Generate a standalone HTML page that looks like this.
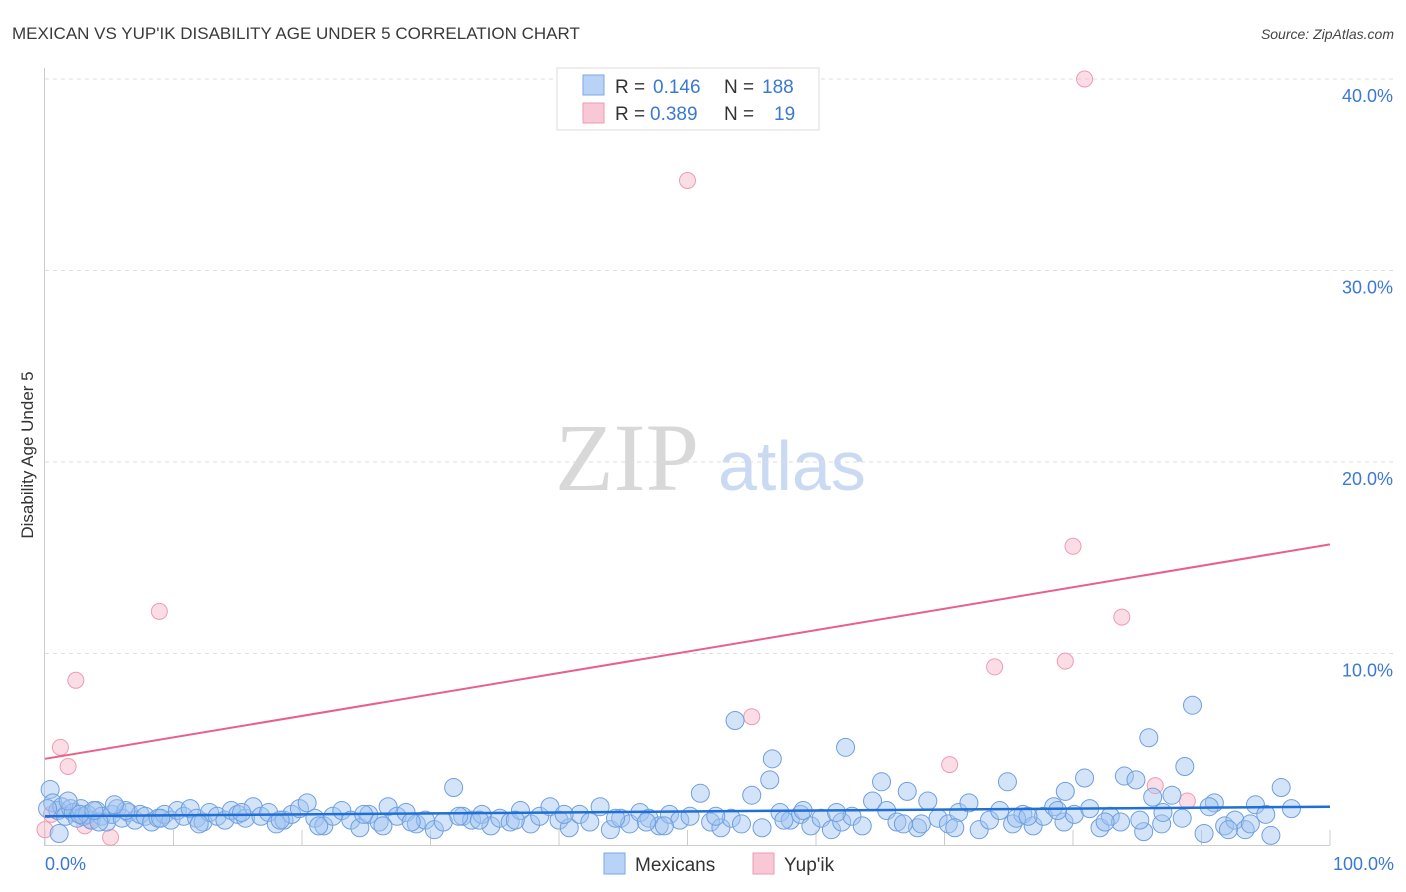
<!DOCTYPE html>
<html><head><meta charset="utf-8"><style>
body{margin:0;background:#fff;font-family:"Liberation Sans",sans-serif}
svg{display:block}
</style></head><body>
<svg id="chart" width="1406" height="892" viewBox="0 0 1406 892" xmlns="http://www.w3.org/2000/svg">
<text x="12" y="39" font-size="17" fill="#3a3a3a">MEXICAN VS YUP'IK DISABILITY AGE UNDER 5 CORRELATION CHART</text>
<text x="1394" y="39" font-size="14" fill="#444" font-style="italic" text-anchor="end">Source: ZipAtlas.com</text>
<g>
<text x="555" y="490" font-family="Liberation Serif,serif" font-size="96" fill="#d8d8d8">ZIP</text>
<text x="718" y="490" font-size="70" fill="#c9daf2">atlas</text>
</g>
<g id="grid"></g>
<g id="axes"></g>
<g id="pinkpts"></g>
<g id="bluepts"></g>
<g id="lines"></g>
<text transform="translate(33,455) rotate(-90)" font-size="17" fill="#333" text-anchor="middle">Disability Age Under 5</text>
<g>
<rect x="557" y="68" width="262" height="62" fill="#fff" stroke="#ddd"/>
<rect x="583" y="75" width="21" height="20" fill="#b9d3f6" stroke="#7aa7e6"/>
<rect x="583" y="103" width="21" height="20" fill="#f9c8d6" stroke="#ec9bb3"/>
<text x="615" y="93" font-size="19" fill="#333">R = </text><text x="653" y="93" font-size="19" fill="#3a78d4">0.146</text>
<text x="724" y="93" font-size="19" fill="#333">N = </text><text x="762" y="93" font-size="19" fill="#3a78d4">188</text>
<text x="615" y="120" font-size="19" fill="#333">R = </text><text x="650" y="120" font-size="19" fill="#3a78d4">0.389</text>
<text x="724" y="120" font-size="19" fill="#333">N = </text><text x="774" y="120" font-size="19" fill="#3a78d4">19</text>
</g>
<g>
<rect x="604" y="853" width="21" height="21" fill="#b9d3f6" stroke="#7aa7e6"/>
<text x="635" y="871" font-size="19" fill="#333">Mexicans</text>
<rect x="753" y="853" width="21" height="21" fill="#f9c8d6" stroke="#ec9bb3"/>
<text x="784" y="871" font-size="19" fill="#333">Yup'ik</text>
</g>
<text x="45" y="870" font-size="18" fill="#3a78d4">0.0%</text>
<text x="1394" y="870" font-size="18" fill="#3a78d4" text-anchor="end">100.0%</text>
</svg>
<script>
const yTicks=[10,20,30,40];
const yTickLabels=["10.0%","20.0%","30.0%","40.0%"];
const xTicks=[0,10,20,30,40,50,60,70,80,90,100];
const pinkX=[0,0.5,1.2,1.8,2.4,3.1,5.1,8.9,50,55,70.4,73.9,79.4,80,80.9,83.8,86.4,88.9,3.5];
const pinkY=[0.8,1.6,5.1,4.1,8.6,1.0,0.4,12.2,34.7,6.7,4.2,9.3,9.6,15.6,40,11.9,3.1,2.3,1.3];
const blueX=[0.4,0.6,1,1.3,1.6,2,2.2,2.5,2.8,3,3.3,3.6,4,4.4,4.8,5.2,5.6,6,6.5,7,7.4,7.8,8.3,8.8,9.3,9.8,10.3,10.8,11.3,11.8,12.3,12.8,13.4,14,14.5,15,15.6,16.2,16.8,17.4,18,18.6,19.2,19.8,20.4,21,21.7,22.4,23.1,23.8,24.5,25.2,26,26.7,27.4,28.1,28.9,29.6,30.3,31,31.8,32.5,33.2,34,34.7,35.4,36.2,37,37.8,38.5,39.3,40,40.8,41.6,42.4,43.2,44,44.8,45.5,46.3,47,47.8,48.6,49.4,50.2,51,51.8,52.6,53.4,53.7,54.2,55,55.8,56.4,56.6,57.2,58,58.8,59.6,60.4,61.2,62,62.3,62.8,63.6,64.4,65.1,65.5,66.3,67.1,67.9,68.7,69.5,70.3,71.1,71.9,72.7,73.5,74.3,74.9,75.3,76.1,76.9,77.7,78.5,79.3,79.4,80.1,80.9,81.3,82.1,82.9,83.7,84,84.9,85.5,85.9,86.2,86.9,87.7,88.5,88.7,89.3,90.2,91,91.8,92.6,93.4,94.2,95,95.4,96.2,97,1.1,2.7,4.2,6.3,9,12,15.3,18.3,21.3,24.8,28.5,32.2,36.6,40.4,44.4,48.2,52.2,57.5,61.6,66.8,70.8,75.6,78.8,82.5,87,90.6,93.8,0.2,1.8,3.8,5.4,26.3,33.8,46.8,59,68.2,76.5,85.2,92.1];
const blueY=[2.9,2.2,1.8,2.0,1.5,1.9,1.7,1.4,1.9,1.5,1.6,1.3,1.8,1.5,1.2,1.6,1.9,1.4,1.7,1.3,1.6,1.5,1.2,1.4,1.6,1.3,1.8,1.5,1.9,1.4,1.2,1.7,1.5,1.3,1.8,1.6,1.4,2.0,1.5,1.7,1.1,1.3,1.6,1.9,2.2,1.4,1.0,1.5,1.8,1.3,0.9,1.6,1.2,2.0,1.5,1.7,1.1,1.3,0.8,1.2,3.0,1.5,1.3,1.6,1.0,1.4,1.2,1.8,1.1,1.5,2.0,1.3,0.9,1.6,1.2,2.0,0.8,1.4,1.1,1.7,1.4,1.0,1.6,1.3,1.5,2.7,1.2,0.9,1.4,6.5,1.1,2.6,0.9,3.4,4.5,1.7,1.3,1.6,1.0,1.4,0.8,1.2,5.1,1.5,1.0,2.3,3.3,1.8,1.2,2.8,0.9,2.3,1.4,1.1,1.7,2.2,0.8,1.3,1.8,3.3,1.1,1.6,1.0,1.5,2.0,1.2,2.8,1.6,3.5,1.9,0.9,1.5,1.2,3.6,3.4,0.7,5.6,2.5,1.1,2.6,1.4,4.1,7.3,0.6,2.2,1.0,1.3,0.8,2.1,1.6,0.5,3.0,1.9,0.6,1.6,1.2,1.8,1.4,1.1,1.7,1.3,1.0,1.6,1.2,1.5,1.3,1.6,1.4,1.0,1.5,1.3,1.7,1.1,0.9,1.4,1.8,1.2,1.7,2.0,1.1,1.9,2.3,1.8,2.1,1.0,1.3,1.2,1.8,1.1,1.5,1.3,0.8];
const blueTrend=[1.5,2.0];
const pinkTrend=[4.5,15.7];
const X0=45,X1=1330,Y0=845,PY=19.15;
const sx=v=>X0+(X1-X0)*v/100, sy=v=>Y0-v*PY;
const NS="http://www.w3.org/2000/svg";
function mk(p,t,a){const e=document.createElementNS(NS,t);for(const k in a)e.setAttribute(k,a[k]);p.appendChild(e);return e;}
const grid=document.getElementById('grid');
yTicks.forEach((t,i)=>{
 const l=mk(grid,'line',{x1:45,x2:1395,y1:sy(t),y2:sy(t),stroke:'#ddd','stroke-dasharray':'4,4'});
 
 
 const tx=mk(grid,'text',{x:1393,y:sy(t)+23,'font-size':18,fill:'#3a78d4','text-anchor':'end'});
 tx.textContent=yTickLabels[i];
 
 
});
const axes=document.getElementById('axes');
mk(axes,'line',{x1:44.5,x2:44.5,y1:68,y2:845,stroke:'#ccc'});
mk(axes,'line',{x1:44,x2:1330,y1:845.5,y2:845.5,stroke:'#ccc'});
xTicks.forEach(t=>{const l=mk(axes,'line',{x1:sx(t),x2:sx(t),y1:830,y2:845,stroke:'#ccc'});
 
 });
const pg=document.getElementById('pinkpts');
pinkX.forEach((x,i)=>{const c=mk(pg,'circle',{cx:sx(x),cy:sy(pinkY[i]),r:8,fill:'rgba(246,180,200,0.45)',stroke:'#ee9bb5','stroke-width':1});
 
 });
const bg=document.getElementById('bluepts');
blueX.forEach((x,i)=>{const c=mk(bg,'circle',{cx:sx(x),cy:sy(blueY[i]),r:9,fill:'rgba(160,195,240,0.45)',stroke:'#6f9fe0','stroke-width':1});
 
 });
const lg=document.getElementById('lines');
const pl=mk(lg,'line',{x1:sx(0),y1:sy(pinkTrend[0]),x2:sx(100),y2:sy(pinkTrend[1]),stroke:'#e8608a','stroke-width':2});


const bl=mk(lg,'line',{x1:sx(0),y1:sy(blueTrend[0]),x2:sx(100),y2:sy(blueTrend[1]),stroke:'#1f6fd6','stroke-width':2.5});


</script>
</body></html>
